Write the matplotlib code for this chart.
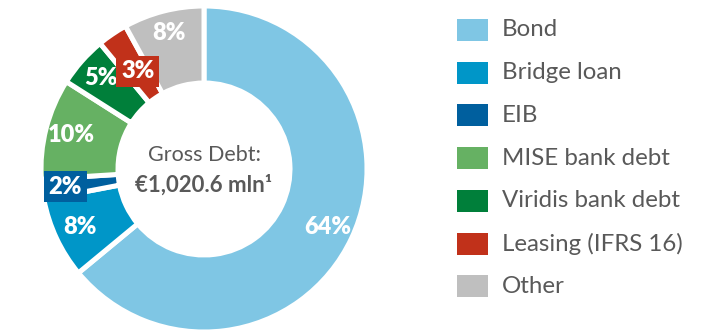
import matplotlib
matplotlib.use("Agg")
import matplotlib.pyplot as plt
from matplotlib.patches import Rectangle
import numpy as np

plt.rcParams['font.family'] = ['Lato', 'DejaVu Sans']

categories = ["Bond", "Bridge loan", "EIB", "MISE bank debt",
              "Viridis bank debt", "Leasing (IFRS 16)", "Other"]
shares = [64, 8, 2, 10, 5, 3, 8]
colors = ["#7FC6E4", "#0096C8", "#005F9E", "#66B163",
          "#007F3A", "#C1311A", "#BFBFBF"]
boxed_labels = [False, False, True, False, False, True, False]
label_radius = [137, 137, 140, 137, 137, 118, 140]

W, H = 717, 334
fig = plt.figure(figsize=(W / 100, H / 100), dpi=100)
ax = fig.add_axes([0, 0, 1, 1])

cx, cy = 204, H - 169
R_out, R_in = 163, 86

wedges, _ = ax.pie(shares, colors=colors, startangle=90, counterclock=False,
                   center=(cx, cy), radius=R_out,
                   wedgeprops=dict(width=R_out - R_in, edgecolor="white",
                                   linewidth=3.6))

# percentage labels at each wedge's mid-angle
total = sum(shares)
cum = np.cumsum([0] + shares[:-1])
for i, s in enumerate(shares):
    theta = np.deg2rad(360 * (cum[i] + s / 2) / total)
    x = cx + label_radius[i] * np.sin(theta)
    y = cy + label_radius[i] * np.cos(theta)
    kw = dict(ha="center", va="center", color="white", fontsize=17,
              fontweight="heavy")
    if boxed_labels[i]:
        kw["bbox"] = dict(boxstyle="square,pad=0.2", facecolor=colors[i],
                          edgecolor="none")
    ax.text(x, y, f"{s}%", **kw)

ax.text(cx, cy + 14, "Gross Debt:", ha="center", va="center",
        color="#595959", fontsize=15.5)
ax.text(cx, cy - 16, "€1,020.6 mln¹", ha="center", va="center",
        color="#595959", fontsize=16, fontweight="bold")

# legend
row0, step = H - 30, 42.7
for i, (name, c) in enumerate(zip(categories, colors)):
    yc = row0 - i * step
    ax.add_patch(Rectangle((457, yc - 11), 31, 22, facecolor=c,
                           edgecolor="none"))
    ax.text(502, yc, name, ha="left", va="center", color="#595959",
            fontsize=17.3)

ax.set_xlim(0, W)
ax.set_ylim(0, H)
ax.set_aspect("equal")
ax.axis("off")

fig.savefig("out.png", dpi=100, facecolor="white")
